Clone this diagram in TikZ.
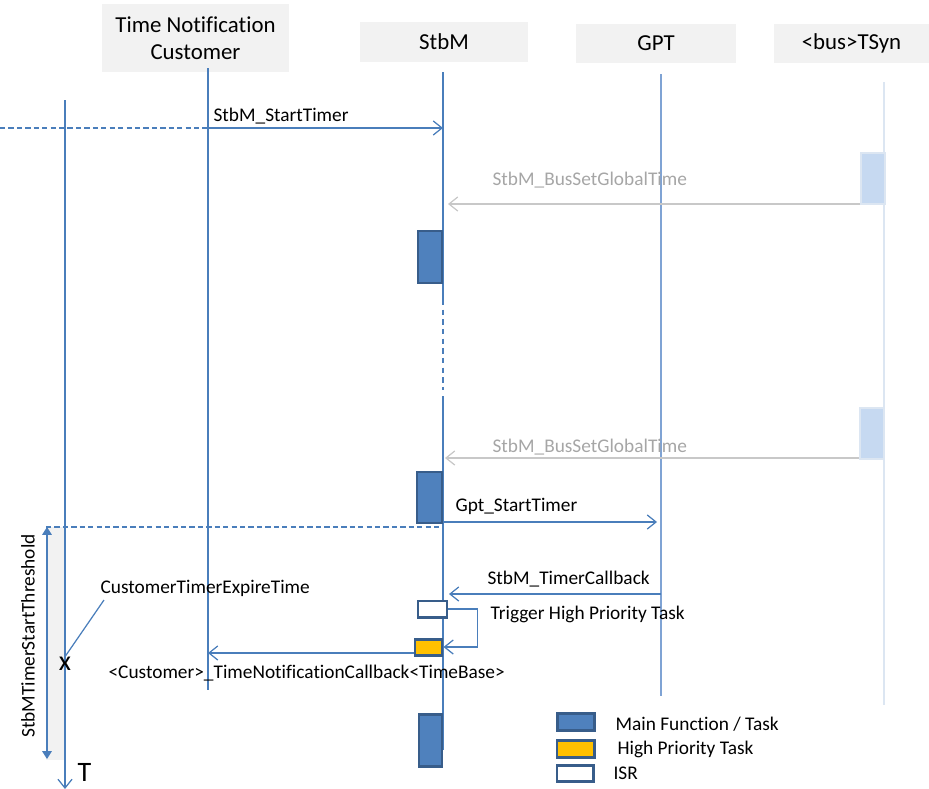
\documentclass[tikz,border=0pt]{standalone}
\usepackage{fontspec}
\setmainfont{Carlito}[Ligatures=NoCommon]
\usetikzlibrary{arrows.meta, positioning}

\definecolor{lineblue}{HTML}{4A7EBB}
\definecolor{gptblue}{HTML}{7FA3D4}
\definecolor{taskblue}{HTML}{4F81BD}
\definecolor{taskedge}{HTML}{385D8A}
\definecolor{prioyellow}{HTML}{FFC000}
\definecolor{headgray}{HTML}{F2F2F2}
\definecolor{paleblue}{HTML}{C6D9F1}
\definecolor{paleedge}{HTML}{DCE6F2}
\definecolor{fadeline}{HTML}{C8C8C8}
\definecolor{fadetext}{HTML}{A6A6A6}

\begin{document}
\begin{tikzpicture}[x=0.2mm,y=-0.2mm,>={Straight Barb[length=5pt,width=8pt]},line width=0.7pt]
    \tikzstyle{head}=[fill=headgray,inner sep=0pt,font=\fontsize{13}{15.5}\selectfont,align=center]
    \tikzstyle{life}=[draw=lineblue,line width=0.7pt]
    \tikzstyle{task}=[draw=taskedge,fill=taskblue,line width=1.7pt,inner sep=0pt]
    \tikzstyle{isr}=[task,fill=white]
    \tikzstyle{prio}=[task,fill=prioyellow]
    \tikzstyle{tsyn}=[draw=paleedge,fill=paleblue,line width=1.6pt,inner sep=0pt,minimum width=4.8mm,minimum height=10.2mm]
    \tikzstyle{msg}=[->,draw=lineblue,line width=0.7pt]
    \tikzstyle{lbl}=[font=\fontsize{11}{13}\selectfont,inner sep=0pt]

    \useasboundingbox (0,0) rectangle (929,789);

    % headers
    \node[head,minimum width=37.4mm,minimum height=13.6mm] (cust) at (195.5,38) {Time Notification\\Customer};
    \node[head,minimum width=33.6mm,minimum height=8mm] (stbm) at (444,42) {StbM};
    \node[head,minimum width=32mm,minimum height=7.8mm] (gpt) at (656,43.5) {GPT};
    \node[head,minimum width=31mm,minimum height=7.8mm] (bus) at (851.5,43.5) {<bus>TSyn};

    % lifelines
    \coordinate (custTop) at (208,68);   \coordinate (custBot) at (208,690);
    \coordinate (stbmTop) at (443,72);   \coordinate (stbmBot) at (443,750);
    \coordinate (gptTop) at (661,74);    \coordinate (gptBot) at (661,696);
    \coordinate (busTop) at (884,82);    \coordinate (busBot) at (884,705);
    \coordinate (axisTop) at (65,100);   \coordinate (axisBot) at (65,789);

    \fill[headgray] (46,527) rectangle (66,760);
    \draw[life] (custTop) -- (custBot);
    \draw[life] (stbmTop) -- (443,300);
    \draw[life,line width=0.6pt,dash pattern=on 3pt off 2.5pt] (443,300) -- (443,390);
    \draw[life] (443,396) -- (stbmBot);
    \draw[draw=gptblue,line width=1pt] (gptTop) -- (gptBot);
    \draw[draw=paleedge,line width=1pt] (busTop) -- (busBot);
    \draw[msg] (axisTop) -- (axisBot);
    \node[font=\fontsize{16}{18}\selectfont,anchor=base west,inner sep=0pt] (tee) at (77,781) {T};

    % activations
    \node[task,minimum width=4.8mm,minimum height=10.4mm] (t1) at (430,257) {};
    \node[task,minimum width=5mm,minimum height=10.2mm] (t2) at (429.5,497.5) {};
    \node[task,minimum width=4.6mm,minimum height=10.4mm] (t3) at (430.5,740) {};
    \node[isr,minimum width=5.8mm,minimum height=3.2mm] (isr) at (432.5,609) {};
    \node[prio,minimum width=5.4mm,minimum height=3.2mm] (hp) at (428.5,647) {};
    \node[tsyn] (ts1) at (873,178.5) {};
    \node[tsyn] (ts2) at (872,433.5) {};

    % messages
    \coordinate (inA) at (0,128);
    \draw[draw=lineblue,dash pattern=on 3pt off 1.8pt] (inA) -- (custTop |- inA);
    \draw[msg] (custTop |- inA) -- (stbmTop |- inA);
    \node[lbl,anchor=west] (startLbl) at (213,116) {StbM\_StartTimer};

    \draw[msg,draw=fadeline] (ts1.west |- 0,204) -- (448,204);
    \node[lbl,anchor=west,text=fadetext] (busLbl1) at (492,180) {StbM\_BusSetGlobalTime};
    \draw[msg,draw=fadeline] (ts2.west |- 0,458) -- (445,458);
    \node[lbl,anchor=west,text=fadetext] (busLbl2) at (492,447) {StbM\_BusSetGlobalTime};

    \draw[msg] (stbmTop |- 0,522) -- (657,522);
    \node[lbl,anchor=west] (gptLbl) at (455,506) {Gpt\_StartTimer};
    \draw[draw=lineblue,dash pattern=on 3pt off 1.8pt] (46,527) -- (stbmTop |- 0,527);

    \draw[msg] (gptTop |- 0,594) -- (449,594);
    \node[lbl,anchor=west] (cbLbl) at (487,579) {StbM\_TimerCallback};
    \draw[msg] (isr.east) -- ++(29,0) |- (hp.east);
    \node[lbl,anchor=west] (trigLbl) at (490,614) {Trigger High Priority Task};
    \draw[msg] (hp.west |- 0,653) -- (custTop |- 0,653);
    \node[lbl,anchor=west] (notiLbl) at (108,673) {<Customer>\_TimeNotificationCallback<TimeBase>};

    % threshold
    \draw[{Triangle[length=4.5pt,width=5.5pt]}-{Triangle[length=4.5pt,width=5.5pt]},draw=lineblue,fill=lineblue] (47,527) -- (47,759);
    \node[lbl,rotate=90] (thrLbl) at (28,636) {StbMTimerStartThreshold};
    \node[lbl,anchor=west] (expLbl) at (100,588) {CustomerTimerExpireTime};
    \node[font=\fontsize{16}{18}\selectfont,inner sep=0pt] (ex) at (65,664) {x};
    \draw[draw=lineblue] (104,600) -- (ex.north);

    % legend
    \node[task,minimum width=7.4mm,minimum height=3.4mm] (lg1) at (576,722) {};
    \node[prio,minimum width=7.4mm,minimum height=3.4mm] (lg2) at (575.5,748.5) {};
    \node[isr,minimum width=7.2mm,minimum height=3.2mm] (lg3) at (575,773) {};
    \node[lbl,anchor=west] at (615,724) {Main Function / Task};
    \node[lbl,anchor=west] at (617,749) {High Priority Task};
    \node[lbl,anchor=west] at (613,773) {ISR};
\end{tikzpicture}
\end{document}
